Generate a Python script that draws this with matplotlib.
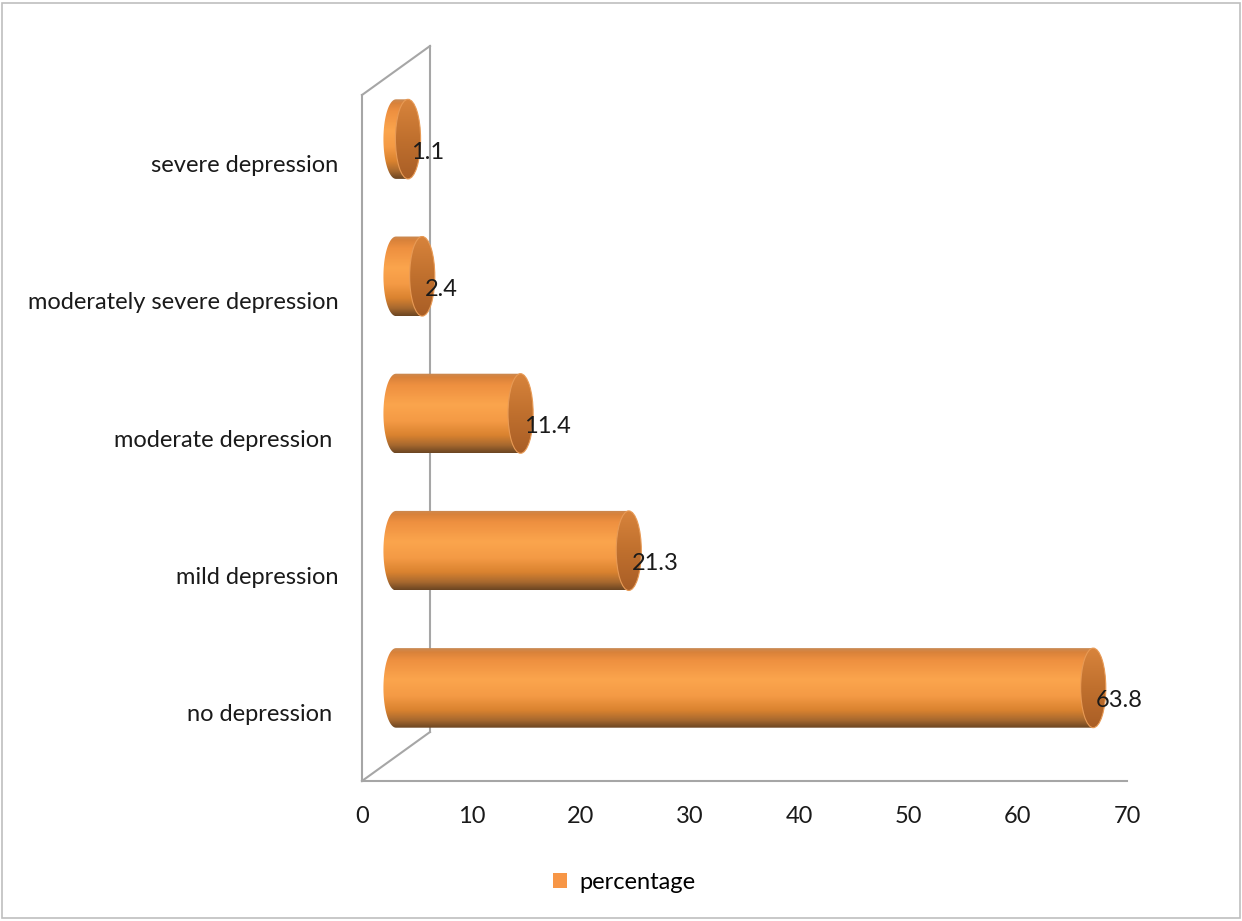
import numpy as np
import matplotlib
matplotlib.use("Agg")
import matplotlib.pyplot as plt
from matplotlib.path import Path
from matplotlib.patches import PathPatch, Ellipse, Rectangle, Patch
from matplotlib.colors import LinearSegmentedColormap
from matplotlib.lines import Line2D

categories = ['no depression ', 'mild depression', 'moderate depression ',
              'moderately severe depression', 'severe depression']
values = [63.8, 21.3, 11.4, 2.4, 1.1]
xticks = [0, 10, 20, 30, 40, 50, 60, 70]

plt.rcParams['font.family'] = ['Lato', 'DejaVu Sans']
fs = 17

W, H = 1242, 921
fig = plt.figure(figsize=(W / 100, H / 100), dpi=100)

# front plane of the 3d box, in pixels
x0px, x1px, ybot, ytop = 362, 1127, 781, 95
depth_x, depth_y = 68, 49
wall = '#A6A6A6'
ppu = (x1px - x0px) / 70.0

ax = fig.add_axes([x0px / W, (H - ybot) / H, (x1px - x0px) / W, (ybot - ytop) / H])
ax.set_xlim(0, 70)
ax.set_ylim(-0.5, len(categories) - 0.5)
ax.set_xticks(xticks)
ax.set_yticks(range(len(categories)))
ax.set_yticklabels(categories)
ax.tick_params(axis='both', length=0, labelsize=fs, colors='#1a1a1a')
ax.tick_params(axis='x', pad=18)
ax.tick_params(axis='y', pad=17)
for s in ['top', 'right']:
    ax.spines[s].set_visible(False)
for s in ['left', 'bottom']:
    ax.spines[s].set_color(wall)
    ax.spines[s].set_linewidth(1.5)
ax.patch.set_visible(False)

# back wall + diagonals
dx = depth_x / (x1px - x0px)
dy = depth_y / (ybot - ytop)
for xs, ys in [([dx, dx], [dy, 1 + dy]), ([0, dx], [1, 1 + dy]), ([0, dx], [0, dy])]:
    ax.add_line(Line2D(xs, ys, transform=ax.transAxes, color=wall, lw=1.5, clip_on=False))

# bars sit half way into the depth; axes widened a bit to the left for the round ends
pad_u = 3
bx = fig.add_axes([(x0px + depth_x / 2 - pad_u * ppu) / W, (H - ybot + depth_y / 2) / H,
                   (x1px - x0px + pad_u * ppu) / W, (ybot - ytop) / H])
bx.set_axis_off()

cmap = LinearSegmentedColormap.from_list('cyl', [
    (0.0, '#C88A55'), (0.05, '#D9823A'), (0.15, '#EE9040'), (0.4, '#FBA54D'),
    (0.6, '#F49A45'), (0.78, '#D9822F'), (0.9, '#A8692F'), (1.0, '#6B4522')])
cap_cmap = LinearSegmentedColormap.from_list('cap', ['#D8843C', '#C0702E', '#A95E26'])
grad = np.linspace(0, 1, 256).reshape(-1, 1)

bh = 0.58
a = 1.15  # half width of the end ellipse, in data units
t = np.linspace(np.pi / 2, 3 * np.pi / 2, 40)
for i, v in enumerate(values):
    top, bot = i + bh / 2, i - bh / 2
    pts = [(0, top), (v, top), (v, bot), (0, bot)]
    pts += [(a * np.cos(tt), i + bh / 2 * np.sin(tt)) for tt in t[::-1]]
    path = Path(pts + [pts[0]], closed=True)
    clip = PathPatch(path, transform=bx.transData, facecolor='none', edgecolor='none')
    bx.add_patch(clip)
    im = bx.imshow(grad, cmap=cmap, aspect='auto', extent=(-a, v + a, bot, top),
                   interpolation='bilinear', origin='upper')
    im.set_clip_path(clip)
    cap = Ellipse((v, i), 2 * a, bh, facecolor='none', edgecolor='none')
    bx.add_patch(cap)
    cim = bx.imshow(grad, cmap=cap_cmap, aspect='auto', extent=(v - a, v + a, bot, top),
                    interpolation='bilinear', origin='upper')
    cim.set_clip_path(cap)
    bx.add_patch(Ellipse((v, i), 2 * a, bh, facecolor='none', edgecolor='#E89A55', lw=0.8))
    bx.annotate(f'{v}', (v, i), xytext=(3, -13), textcoords='offset pixels',
                ha='left', va='center', fontsize=fs, color='#1a1a1a')

bx.set_xlim(-pad_u, 70)
bx.set_ylim(-0.5, len(categories) - 0.5)

fig.legend(handles=[Patch(facecolor='#F79646', edgecolor='none', label='percentage')],
           loc='center', bbox_to_anchor=(624 / W, 1 - 882 / H), frameon=False,
           fontsize=fs, handlelength=0.6, handleheight=0.6, handletextpad=0.5)

fig.patches.append(Rectangle((2 / W, 3 / H), 1 - 4 / W, 1 - 6 / H, transform=fig.transFigure,
                             fill=False, edgecolor='#BFBFBF', lw=1.2))

fig.savefig('out.png', dpi=100)
